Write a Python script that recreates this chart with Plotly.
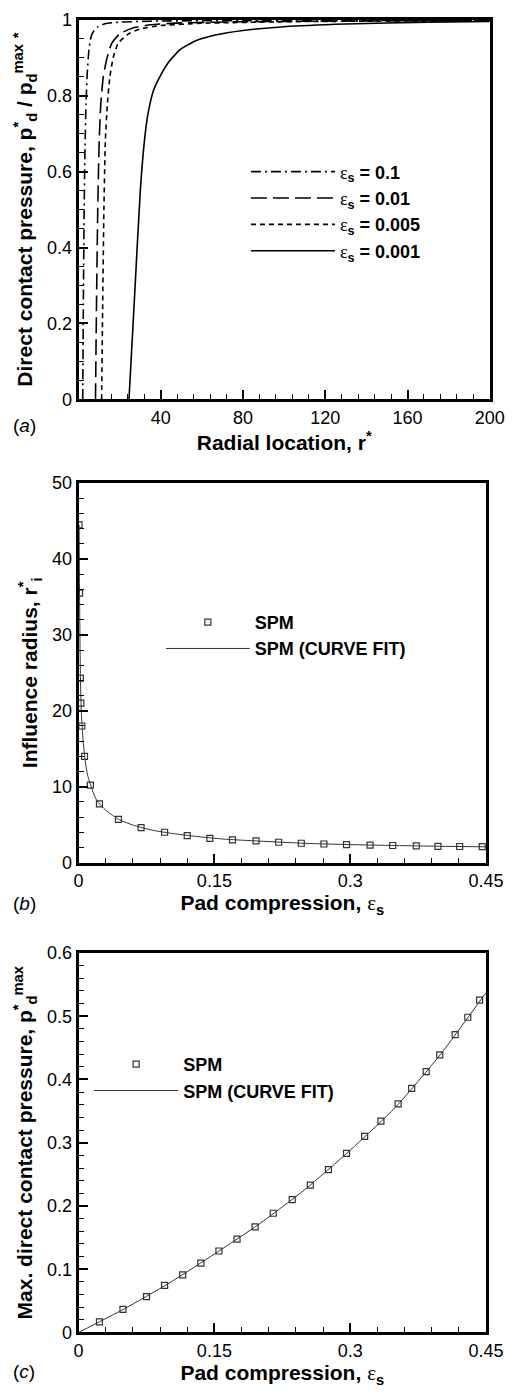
import plotly.graph_objects as go

# ---------------- Panel (a): direct contact pressure vs radial location ----------------
r_eps_0p1 = [2.0, 2.3, 2.7, 3.1, 3.6, 4.2, 5.0, 6.0, 7.5, 9.5, 13, 20, 40, 80, 200]
p_eps_0p1 = [0, 0.25, 0.5, 0.66, 0.78, 0.86, 0.92, 0.955, 0.972, 0.982, 0.99, 0.994, 0.997, 0.998, 0.999]

r_eps_0p01 = [8.2, 8.7, 9.3, 10.0, 10.8, 12.0, 13.6, 16.0, 20.0, 26, 35, 50, 80, 130, 200]
p_eps_0p01 = [0, 0.25, 0.5, 0.68, 0.78, 0.85, 0.895, 0.937, 0.963, 0.978, 0.987, 0.992, 0.995, 0.997, 0.998]

r_eps_0p005 = [11.2, 11.7, 12.3, 13.0, 14.0, 15.2, 16.8, 19.2, 24.5, 30, 40, 60, 100, 150, 200]
p_eps_0p005 = [0, 0.25, 0.5, 0.68, 0.78, 0.85, 0.9, 0.938, 0.964, 0.976, 0.985, 0.991, 0.995, 0.997, 0.998]

r_eps_0p001 = [24.5, 27.3, 30.1, 32.4, 34.0, 36.5, 40, 44, 49.5, 57, 66.5, 80, 100, 130, 170, 200]
p_eps_0p001 = [0, 0.28, 0.558, 0.70, 0.76, 0.815, 0.855, 0.89, 0.922, 0.945, 0.96, 0.972, 0.982, 0.989, 0.994, 0.996]

# ---------------- Panel (b): influence radius vs pad compression ----------------
eps_b_spm = [0.0005, 0.001, 0.002, 0.0025, 0.0035, 0.0065, 0.013, 0.023, 0.044, 0.069, 0.095, 0.12,
             0.145, 0.17, 0.196, 0.221, 0.246, 0.271, 0.296, 0.322, 0.347, 0.373, 0.397, 0.421, 0.446]
r_b_spm = [44.5, 35.5, 24.3, 21.0, 18.0, 14.0, 10.2, 7.75, 5.7, 4.6, 4.0, 3.55,
           3.2, 3.0, 2.85, 2.68, 2.55, 2.45, 2.38, 2.3, 2.25, 2.2, 2.15, 2.12, 2.1]

eps_b_fit = [0.0005, 0.001, 0.002, 0.003, 0.005, 0.0075, 0.01, 0.015, 0.02, 0.03, 0.045, 0.06,
             0.08, 0.1, 0.13, 0.16, 0.2, 0.25, 0.3, 0.35, 0.4, 0.45]
r_b_fit = [44.5, 35.5, 24.5, 19.8, 16.0, 13.2, 11.5, 9.6, 8.2, 6.9, 5.65, 4.95,
           4.3, 3.9, 3.45, 3.1, 2.83, 2.54, 2.37, 2.25, 2.15, 2.08]

# ---------------- Panel (c): max direct contact pressure vs pad compression ----------------
eps_c_spm = [0.023, 0.049, 0.075, 0.095, 0.115, 0.135, 0.155, 0.175, 0.195, 0.215, 0.236, 0.256,
             0.276, 0.296, 0.316, 0.334, 0.353, 0.368, 0.384, 0.399, 0.416, 0.43, 0.443]
p_c_spm = [0.0167, 0.0364, 0.0567, 0.0743, 0.091, 0.1096, 0.1288, 0.1475, 0.167, 0.1885, 0.21, 0.233,
           0.2576, 0.283, 0.31, 0.334, 0.3614, 0.3858, 0.4123, 0.439, 0.471, 0.4984, 0.5255]

eps_c_fit = [0, 0.05, 0.1, 0.15, 0.2, 0.25, 0.3, 0.35, 0.4, 0.45]
p_c_fit = [0, 0.037, 0.078, 0.124, 0.172, 0.226, 0.288, 0.356, 0.44, 0.537]

FONT = "Liberation Sans"
EPS = "<span style='font-family:Liberation Serif;font-weight:normal'>ε</span>"

W, H = 524, 1395


def py(px):
    return 1 - px / H


fig = go.Figure()

line_w = 1.6
fig.add_trace(go.Scatter(x=r_eps_0p1, y=p_eps_0p1, mode="lines", name=f"{EPS}<sub>s</sub> = 0.1",
                         line=dict(color="black", width=line_w, dash="10px,4px,2px,4px", shape="spline", smoothing=0.5),
                         xaxis="x", yaxis="y", legend="legend"))
fig.add_trace(go.Scatter(x=r_eps_0p01, y=p_eps_0p01, mode="lines", name=f"{EPS}<sub>s</sub> = 0.01",
                         line=dict(color="black", width=line_w, dash="16px,6px", shape="spline", smoothing=0.5),
                         xaxis="x", yaxis="y", legend="legend"))
fig.add_trace(go.Scatter(x=r_eps_0p005, y=p_eps_0p005, mode="lines", name=f"{EPS}<sub>s</sub> = 0.005",
                         line=dict(color="black", width=line_w, dash="5px,4px", shape="spline", smoothing=0.5),
                         xaxis="x", yaxis="y", legend="legend"))
fig.add_trace(go.Scatter(x=r_eps_0p001, y=p_eps_0p001, mode="lines", name=f"{EPS}<sub>s</sub> = 0.001",
                         line=dict(color="black", width=line_w, shape="spline", smoothing=0.5),
                         xaxis="x", yaxis="y", legend="legend"))

mk = dict(symbol="square-open", size=6, color="#333333", line=dict(width=1.2, color="#333333"))
fig.add_trace(go.Scatter(x=eps_b_spm, y=r_b_spm, mode="markers", name="SPM", marker=mk,
                         xaxis="x2", yaxis="y2", legend="legend2"))
fig.add_trace(go.Scatter(x=eps_b_fit, y=r_b_fit, mode="lines", name="SPM (CURVE FIT)",
                         line=dict(color="#333333", width=1, shape="spline", smoothing=0.6),
                         xaxis="x2", yaxis="y2", legend="legend2"))

fig.add_trace(go.Scatter(x=eps_c_spm, y=p_c_spm, mode="markers", name="SPM", marker=mk,
                         xaxis="x3", yaxis="y3", legend="legend3"))
fig.add_trace(go.Scatter(x=eps_c_fit, y=p_c_fit, mode="lines", name="SPM (CURVE FIT)",
                         line=dict(color="#333333", width=1, shape="spline", smoothing=0.6),
                         xaxis="x3", yaxis="y3", legend="legend3"))


def axis(**kw):
    d = dict(showline=True, linecolor="black", linewidth=3, mirror=True,
             ticks="inside", ticklen=9, tickwidth=2, tickcolor="black",
             showgrid=False, zeroline=False,
             tickfont=dict(family=FONT, size=18, color="black"),
             title_font=dict(family=FONT, size=21, color="black", weight="bold"))
    d.update(kw)
    return d


def minor(dt):
    return dict(ticks="inside", ticklen=5, tickwidth=1, tickcolor="black", dtick=dt, tick0=0, showgrid=False)


xa_dom = [77 / W, 507 / W]
xb_dom = [77 / W, 503 / W]

fig.update_layout(
    width=W, height=H, margin=dict(l=0, r=0, t=0, b=0),
    paper_bgcolor="white", plot_bgcolor="white",
    xaxis=axis(domain=xa_dom, anchor="y", range=[0, 200], tickvals=[40, 80, 120, 160, 200], minor=minor(8),
               title=dict(text="Radial location, r<sup>*</sup>", standoff=6)),
    yaxis=axis(domain=[py(395), py(10)], anchor="x", range=[0, 1], dtick=0.2, minor=minor(0.05),
               title=dict(text="Direct contact pressure, p<sup>*</sup><sub>d</sub> / p<sub>d</sub><sup>max</sup> <sup>*</sup>", standoff=9)),
    xaxis2=axis(domain=xb_dom, anchor="y2", range=[0, 0.45], tickvals=[0, 0.15, 0.3, 0.45], minor=minor(0.03),
                title=dict(text=f"Pad compression, {EPS}<sub>s</sub>", standoff=6)),
    yaxis2=axis(domain=[py(865), py(480)], anchor="x2", range=[0, 50], dtick=10, minor=minor(2),
                title=dict(text="Influence radius, r<sup>*</sup><sub>i</sub>", standoff=9)),
    xaxis3=axis(domain=xb_dom, anchor="y3", range=[0, 0.45], tickvals=[0, 0.15, 0.3, 0.45], minor=minor(0.03),
                title=dict(text=f"Pad compression, {EPS}<sub>s</sub>", standoff=6)),
    yaxis3=axis(domain=[py(1341.7), py(956.7)], anchor="x3", range=[0, 0.6], dtick=0.1, minor=minor(0.02),
                title=dict(text="Max. direct contact pressure, p<sup>*</sup><sub>d</sub><sup>max</sup>", standoff=9)),
    showlegend=True,
)

leg_common = dict(xanchor="left", yanchor="top", bgcolor="rgba(0,0,0,0)", itemwidth=84,
                  font=dict(family=FONT, size=18, color="black", weight="bold"), tracegroupgap=0)
fig.update_layout(
    legend=dict(x=252 / W, y=py(145.5), **leg_common),
    legend2=dict(x=163 / W, y=py(602.5), **leg_common),
    legend3=dict(x=88 / W, y=py(1051), **leg_common),
)

for lab, ypx in [("a", 422), ("b", 907), ("c", 1381)]:
    fig.add_annotation(text=f"(<i>{lab}</i>)", x=20 / W, y=py(ypx), xref="paper", yref="paper",
                       showarrow=False, font=dict(family=FONT, size=19, color="black"),
                       xanchor="center", yanchor="middle")

fig.write_html("out.html")
